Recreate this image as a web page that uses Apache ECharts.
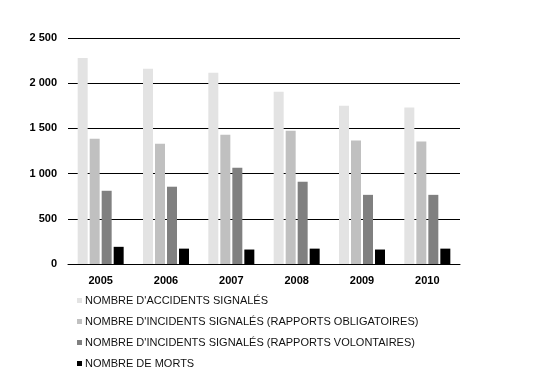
<!DOCTYPE html>
<html lang="fr">
  <head>
    <meta charset="UTF-8" />
    <title>Accidents et incidents</title>
    <script src="https://cdn.jsdelivr.net/npm/echarts@6/dist/echarts.min.js"></script>
    <style>
      body { margin: 0; background: #fff; }
      #main { width: 547px; height: 378px; }
    </style>
  </head>
  <body>
    <div id="main"></div>
    <script>
      // données
      var years = ["2005", "2006", "2007", "2008", "2009", "2010"];
      var accidents = [2280, 2160, 2115, 1905, 1750, 1730];
      var incidentsOblig = [1385, 1330, 1430, 1475, 1365, 1355];
      var incidentsVolont = [810, 855, 1065, 910, 765, 765];
      var morts = [190, 170, 160, 170, 160, 170];
      var yTicks = [0, 500, 1000, 1500, 2000, 2500];

      var names = [
        "NOMBRE D'ACCIDENTS SIGNALÉS",
        "NOMBRE D'INCIDENTS SIGNALÉS (RAPPORTS OBLIGATOIRES)",
        "NOMBRE D'INCIDENTS SIGNALÉS (RAPPORTS VOLONTAIRES)",
        "NOMBRE DE MORTS"
      ];
      var colors = ["#e3e3e3", "#c0c0c0", "#808080", "#000000"];
      var values = [accidents, incidentsOblig, incidentsVolont, morts];

      var font = "'Liberation Sans', Arial, sans-serif";

      var myChart = echarts.init(document.getElementById("main"));

      var series = [];
      for (var i = 0; i < values.length; i++) {
        series.push({
          name: names[i],
          type: "bar",
          data: values[i],
          barWidth: 10,
          barGap: "20%",
          itemStyle: { color: colors[i] }
        });
      }

      var option = {
        animation: false,
        textStyle: { fontFamily: font },
        grid: { left: 68, right: 87, top: 38, bottom: 114 },
        legend: {
          orient: "vertical",
          left: 77,
          top: 295,
          padding: 0,
          itemWidth: 5,
          itemHeight: 5,
          itemGap: 10,
          icon: "rect",
          data: names,
          textStyle: { fontSize: 11, color: "#111", fontFamily: font, padding: [0, 0, 0, -2] }
        },
        xAxis: {
          type: "category",
          data: years,
          axisLine: { lineStyle: { color: "#000", width: 1 } },
          axisTick: { show: false },
          axisLabel: { fontSize: 11, fontWeight: "bold", color: "#000", margin: 11, fontFamily: font }
        },
        yAxis: {
          type: "value",
          min: yTicks[0],
          max: yTicks[yTicks.length - 1],
          interval: 500,
          axisLine: { show: false },
          axisTick: { show: false },
          splitLine: { lineStyle: { color: "#000", width: 1 } },
          axisLabel: {
            fontSize: 11,
            fontWeight: "bold",
            color: "#000",
            margin: 11,
            fontFamily: font,
            formatter: function (v) {
              return String(v).replace(/\B(?=(\d{3})+(?!\d))/g, " ");
            }
          }
        },
        series: series
      };
      myChart.setOption(option);
    </script>
  </body>
</html>
